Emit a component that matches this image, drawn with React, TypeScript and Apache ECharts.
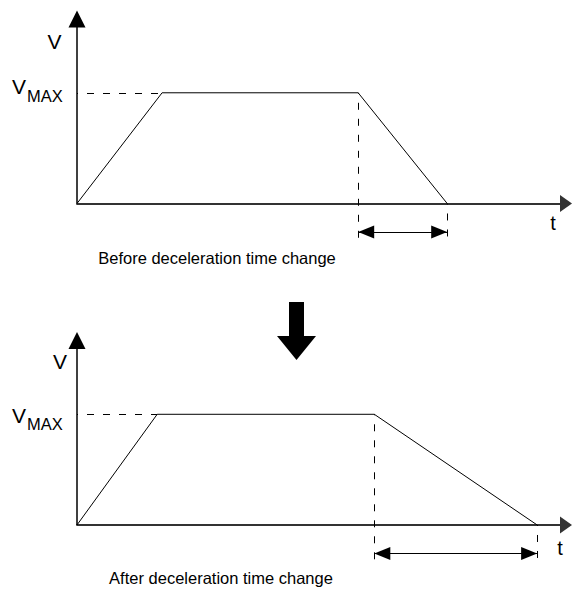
import React, { useEffect, useRef } from "react";
import * as echarts from "echarts";

// ---- data (time in arbitrary units, speed as a fraction of the axis height) ----
const beforeTime = [0, 1.74, 5.75, 7.57];
const beforeSpeed = [0, 0.6, 0.6, 0];
const afterTime = [0, 1.64, 6.08, 9.41];
const afterSpeed = [0, 0.6, 0.6, 0];
const VMAX = 0.6;
const T_MAX = 10;
const Y_TOP = 1;
const Y_BOTTOM = -0.25;
const GUIDE_LEVEL = -0.2; // lower end of the dashed guide lines
const SPAN_LEVEL = -0.155; // level of the double-headed arrow
const captions = ["Before deceleration time change", "After deceleration time change"];

const FONT = '"Liberation Sans", Arial, Helvetica, sans-serif';

function profileSeries(time: number[], speed: number[], gridIndex: number) {
  const tAccelEnd = time[1];
  const tDecelStart = time[2];
  const tEnd = time[3];
  const dashed = { type: [7, 9] as any, dashOffset: 6, color: "#000", width: 1 };
  return {
    type: "line",
    xAxisIndex: gridIndex,
    yAxisIndex: gridIndex,
    data: time.map((t, i) => [t, speed[i]]),
    symbol: "none",
    lineStyle: { color: "#000", width: 1 },
    itemStyle: { color: "#000" },
    silent: true,
    markLine: {
      silent: true,
      symbol: ["none", "none"],
      label: { show: false },
      emphasis: { disabled: true },
      lineStyle: dashed,
      data: [
        // vertical (speed) axis with arrow
        [
          { coord: [0, 0], lineStyle: { type: "solid", width: 1.5, color: "#000" } },
          { coord: [0, Y_TOP], symbol: "triangle", symbolSize: [17, 17] },
        ],
        // V max guide
        [{ coord: [0, VMAX] }, { coord: [tAccelEnd, VMAX] }],
        // deceleration start guide
        [{ coord: [tDecelStart, VMAX] }, { coord: [tDecelStart, GUIDE_LEVEL] }],
        // deceleration end guide
        [{ coord: [tEnd, 0] }, { coord: [tEnd, GUIDE_LEVEL] }],
        // deceleration time span
        [
          {
            coord: [tDecelStart, SPAN_LEVEL],
            symbol: "triangle",
            symbolSize: [13, 16],
            symbolOffset: [0, 8],
            lineStyle: { type: "solid", width: 1.2, color: "#000" },
          },
          { coord: [tEnd, SPAN_LEVEL], symbol: "triangle", symbolSize: [13, 16], symbolOffset: [0, 8] },
        ],
      ],
    },
  };
}

function axisPair(gridIndex: number) {
  return {
    x: {
      type: "value",
      gridIndex,
      min: 0,
      max: T_MAX,
      axisLine: {
        show: true,
        onZero: true,
        symbol: ["none", "triangle"],
        symbolSize: [17, 12],
        lineStyle: { color: "#333", width: 1.8 },
      },
      axisTick: { show: false },
      axisLabel: { show: false },
      splitLine: { show: false },
    },
    y: {
      type: "value",
      gridIndex,
      min: Y_BOTTOM,
      max: Y_TOP,
      axisLine: { show: false },
      axisTick: { show: false },
      axisLabel: { show: false },
      splitLine: { show: false },
    },
  };
}

function txt(text: string, x: number, y: number, fontSize: number, align = "center") {
  return {
    type: "text",
    x,
    y,
    silent: true,
    style: {
      text,
      fontSize,
      fontFamily: FONT,
      fill: "#000",
      align,
      verticalAlign: "middle",
    },
  };
}

export default function App() {
  const ref = useRef<HTMLDivElement>(null);
  useEffect(() => {
    if (!ref.current) return;
    const chart = echarts.init(ref.current, null, { renderer: "svg" });
    const a0 = axisPair(0);
    const a1 = axisPair(1);
    chart.setOption({
      animation: false,
      backgroundColor: "#fff",
      grid: [
        { left: 77, top: 19, width: 489, height: 230.6 },
        { left: 77, top: 340.5, width: 489, height: 230.6 },
      ],
      xAxis: [a0.x, a1.x],
      yAxis: [a0.y, a1.y],
      series: [profileSeries(beforeTime, beforeSpeed, 0), profileSeries(afterTime, afterSpeed, 1)],
      graphic: [
        // top diagram labels
        txt("V", 54.5, 41, 21),
        txt("V", 12, 86.5, 21, "left"),
        txt("MAX", 27, 96, 16.5, "left"),
        txt("t", 553, 223, 20),
        txt(captions[0], 217, 258, 16.5),
        // bottom diagram labels
        txt("V", 60, 361, 21),
        txt("V", 12, 415.5, 21, "left"),
        txt("MAX", 27, 424, 16.5, "left"),
        txt("t", 560, 548, 20),
        txt(captions[1], 221, 578, 16.5),
        // big down arrow between the diagrams
        {
          type: "polygon",
          silent: true,
          shape: {
            points: [
              [289, 302],
              [304, 302],
              [304, 336],
              [316, 336],
              [296.5, 360],
              [277, 336],
              [289, 336],
            ],
          },
          style: { fill: "#000" },
        },
      ],
    });
    return () => chart.dispose();
  }, []);
  return (
    <div
      ref={ref}
      style={{ position: "absolute", left: 0, top: 0, width: 572, height: 590, background: "#fff" }}
    />
  );
}
